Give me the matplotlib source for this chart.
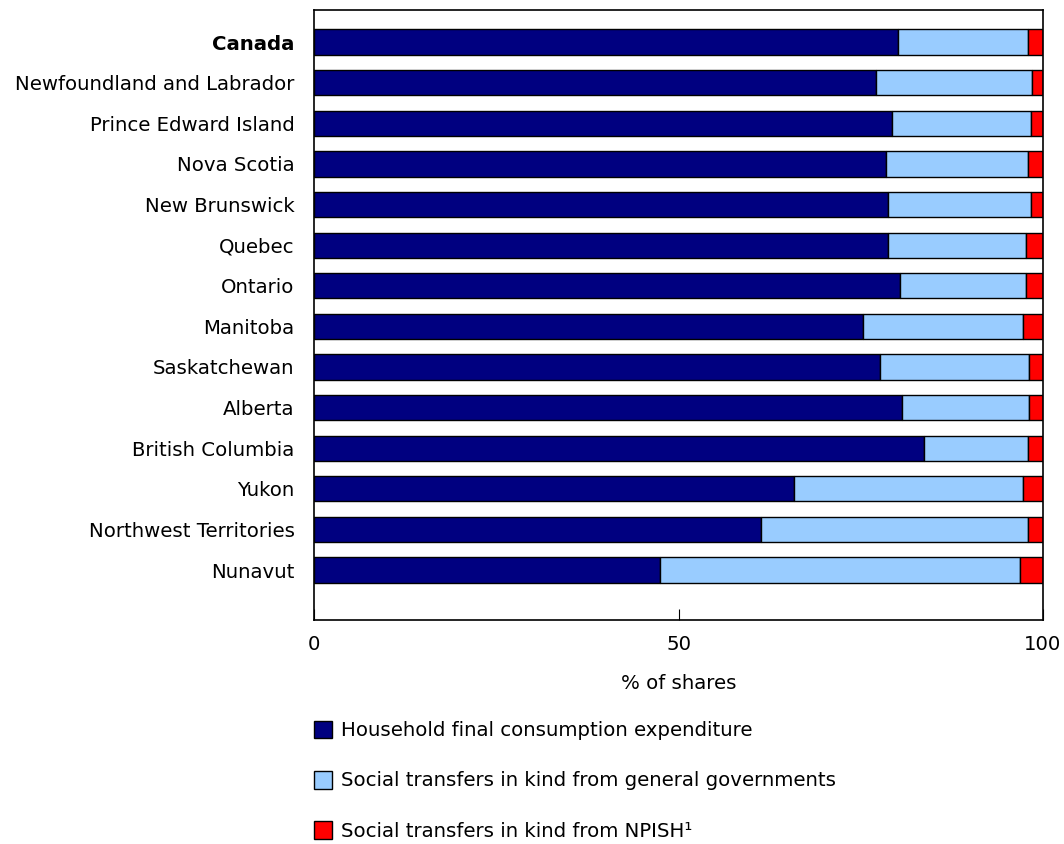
import matplotlib.pyplot as plt
from matplotlib.patches import Patch
import numpy as np

provinces = ['Canada', 'Newfoundland and Labrador', 'Prince Edward Island',
             'Nova Scotia', 'New Brunswick', 'Quebec', 'Ontario', 'Manitoba',
             'Saskatchewan', 'Alberta', 'British Columbia', 'Yukon',
             'Northwest Territories', 'Nunavut']
household = [80.1, 77.1, 79.3, 78.4, 78.8, 78.8, 80.4, 75.3, 77.7, 80.6, 83.7, 65.8, 61.3, 47.4]
gov_transfers = [17.8, 21.4, 19.1, 19.6, 19.6, 18.9, 17.3, 22.0, 20.4, 17.5, 14.2, 31.5, 36.6, 49.4]
npish = [round(100 - h - g, 1) for h, g in zip(household, gov_transfers)]

series_names = ['Household final consumption expenditure',
                'Social transfers in kind from general governments',
                'Social transfers in kind from NPISH\u00b9']
colors = ['#000080', '#99CCFF', '#FF0000']

fs = 14.2
plt.rcParams['font.family'] = ['DejaVu Sans']
fig = plt.figure(figsize=(10.64, 8.44), dpi=100)
ax = fig.add_axes([314 / 1064, 1 - 620 / 844, (1043 - 314) / 1064, 610 / 844])

y = np.arange(len(provinces))
left = np.zeros(len(provinces))
for vals, c in zip([household, gov_transfers, npish], colors):
    ax.barh(y, vals, left=left, height=0.62, color=c, edgecolor='black', linewidth=1)
    left += np.array(vals)

ax.set_xlim(0, 100)
ax.set_ylim(13 + 1.23, -0.79)
ax.set_yticks(y)
ax.set_yticklabels(provinces, fontsize=fs)
ax.get_yticklabels()[0].set_fontweight('bold')
ax.tick_params(axis='y', length=0, pad=14)
ax.set_xticks([0, 50, 100])
ax.tick_params(axis='x', direction='in', length=8, labelsize=fs, pad=11)
ax.set_xlabel('% of shares', fontsize=fs, labelpad=14)
for s in ax.spines.values():
    s.set_linewidth(1.2)

handles = [Patch(facecolor=c, edgecolor='black') for c in colors]
fig.legend(handles, series_names, loc='upper left',
           bbox_to_anchor=(296 / 1064, 1 - 703 / 844), frameon=False,
           fontsize=fs, handlelength=0.95, handleheight=1.0, handletextpad=0.45,
           labelspacing=1.55)

fig.savefig('out.png', dpi=100)
